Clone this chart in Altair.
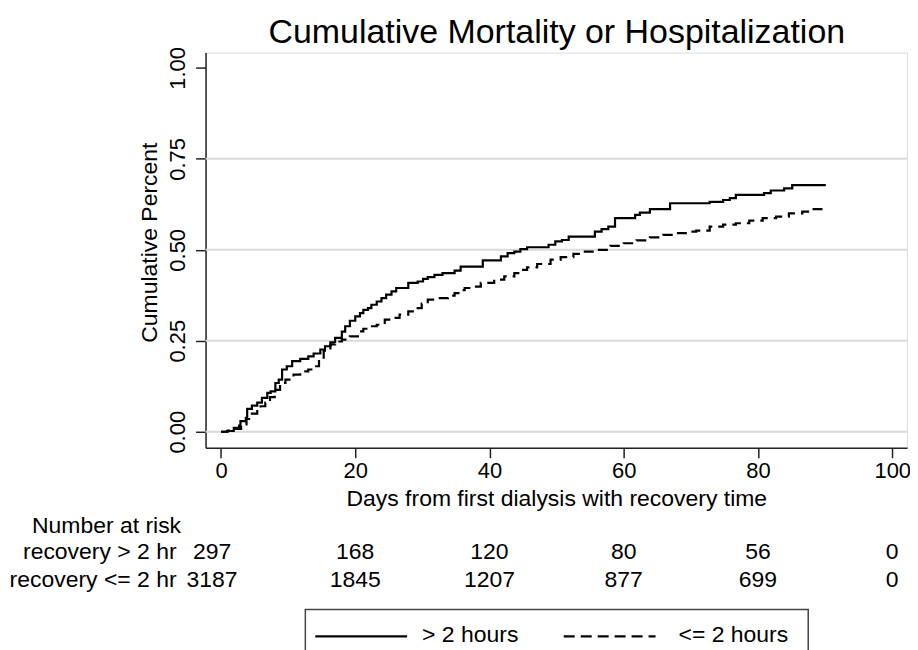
import altair as alt
import pandas as pd

FONT = "Liberation Sans"

title_text = "Cumulative Mortality or Hospitalization"
x_title = "Days from first dialysis with recovery time"
y_title = "Cumulative Percent"
groups = ["> 2 hours", "<= 2 hours"]

gt2_days = [0, 0.9, 1.9, 2.7, 2.9, 3.7, 3.9, 4.6, 5.4, 6.1, 6.9, 7.4, 8.1, 8.6, 9.1,
            9.8, 10.6, 11.8, 13.0, 13.8, 14.8, 15.5, 16.3, 17.0, 18.0, 18.5, 19.2, 20.0,
            20.7, 21.2, 21.9, 22.4, 23.2, 23.9, 24.6, 25.4, 26.1, 27.9, 29.3, 30.1, 30.8,
            31.8, 33.0, 34.8, 35.7, 39.0, 41.7, 42.7, 43.7, 44.6, 45.6, 48.8, 49.8, 50.8,
            51.8, 55.7, 56.7, 57.7, 58.7, 61.7, 62.4, 63.9, 66.9, 72.8, 74.8, 75.8, 76.7,
            80.9, 81.9, 83.9, 85.1, 90.1]
gt2_vals = [0, 0.002, 0.011, 0.017, 0.029, 0.038, 0.063, 0.072, 0.080, 0.093, 0.107,
            0.111, 0.134, 0.143, 0.171, 0.180, 0.194, 0.200, 0.207, 0.215, 0.226, 0.235,
            0.246, 0.258, 0.275, 0.290, 0.305, 0.317, 0.326, 0.335, 0.340, 0.349, 0.358,
            0.367, 0.377, 0.386, 0.395, 0.409, 0.413, 0.420, 0.425, 0.431, 0.436, 0.443,
            0.454, 0.471, 0.482, 0.491, 0.495, 0.502, 0.507, 0.514, 0.523, 0.527, 0.536,
            0.550, 0.557, 0.564, 0.587, 0.596, 0.602, 0.612, 0.628, 0.632, 0.637, 0.642,
            0.651, 0.656, 0.663, 0.669, 0.678, 0.678]

le2_days = [0, 1.0, 2.0, 3.0, 3.8, 4.6, 5.4, 5.9, 6.6, 7.3, 8.0, 8.8, 9.6, 10.2, 10.8,
            11.8, 13.0, 13.8, 14.6, 15.3, 16.3, 17.0, 18.0, 19.2, 20.4, 21.2, 21.9, 23.2,
            24.4, 25.4, 26.6, 27.9, 29.1, 29.9, 30.8, 31.8, 33.8, 34.8, 35.6, 36.3, 37.2,
            38.7, 40.7, 42.2, 43.7, 44.6, 45.6, 47.1, 49.1, 50.6, 52.5, 54.0, 56.0, 58.0,
            60.0, 61.9, 63.9, 65.9, 67.9, 69.8, 70.8, 72.8, 74.8, 76.7, 78.7, 80.7, 82.7,
            84.6, 86.6, 88.1, 90.1]
le2_vals = [0, 0.003, 0.008, 0.020, 0.035, 0.050, 0.062, 0.070, 0.080, 0.095, 0.115,
            0.134, 0.143, 0.150, 0.157, 0.166, 0.171, 0.180, 0.200, 0.222, 0.240, 0.248,
            0.253, 0.262, 0.276, 0.283, 0.290, 0.294, 0.308, 0.313, 0.322, 0.331, 0.340,
            0.352, 0.363, 0.367, 0.374, 0.381, 0.389, 0.395, 0.399, 0.409, 0.418, 0.427,
            0.436, 0.445, 0.452, 0.461, 0.473, 0.480, 0.489, 0.495, 0.500, 0.511, 0.518,
            0.526, 0.534, 0.541, 0.546, 0.550, 0.553, 0.564, 0.569, 0.573, 0.580, 0.587,
            0.591, 0.600, 0.605, 0.612, 0.617]

x_ticks = [0, 20, 40, 60, 80, 100]
y_ticks = [0, 0.25, 0.5, 0.75, 1.0]
grid_vals = [0, 0.25, 0.5, 0.75]

risk_header = "Number at risk"
risk_labels = ["recovery > 2 hr", "recovery <= 2 hr"]
risk_days = [0, 20, 40, 60, 80, 100]
risk_gt2 = [297, 168, 120, 80, 56, 0]
risk_le2 = [3187, 1845, 1207, 877, 699, 0]

curves = pd.concat([
    pd.DataFrame({"day": gt2_days, "value": gt2_vals, "group": groups[0]}),
    pd.DataFrame({"day": le2_days, "value": le2_vals, "group": groups[1]}),
], ignore_index=True)

xs = alt.Scale(domain=[-2.3, 102.2], nice=False, zero=False)
ys = alt.Scale(domain=[-0.044, 1.042], nice=False, zero=False)

x_axis = alt.Axis(values=x_ticks, format="d", title=x_title, grid=False, tickSize=10,
                  labelPadding=3, labelFontSize=22, titleFontSize=23, titleY=58,
                  titleBaseline="alphabetic", labelFlush=False, labelOverlap=False,
                  domainColor="#222222", tickColor="#222222", domainWidth=1.5, tickWidth=1.5,
                  labelColor="black", titleColor="black", labelFont=FONT, titleFont=FONT,
                  titleFontWeight="normal")
y_axis = alt.Axis(values=y_ticks, format=".2f", title=y_title, grid=False, tickSize=10,
                  labelAngle=270, labelAlign="center", labelBaseline="alphabetic",
                  labelPadding=11, labelFontSize=22, titleFontSize=23, titleAngle=270,
                  titleX=-49, titleY=190, titleBaseline="alphabetic", titleAlign="center",
                  labelFlush=False, labelOverlap=False,
                  domainColor="#222222", tickColor="#222222", domainWidth=1.5, tickWidth=1.5,
                  labelColor="black", titleColor="black", labelFont=FONT, titleFont=FONT,
                  titleFontWeight="normal")

X = alt.X("day:Q", scale=xs, axis=x_axis)

grid = alt.Chart(pd.DataFrame({"g": grid_vals})).mark_rule(
    color="#dadada", strokeWidth=2
).encode(y=alt.Y("g:Q", scale=ys, axis=y_axis))

lines = alt.Chart(curves).mark_line(
    interpolate="step-after", color="black", strokeWidth=2.2
).encode(
    x=X,
    y=alt.Y("value:Q", scale=ys, axis=y_axis),
    strokeDash=alt.StrokeDash("group:N", scale=alt.Scale(domain=groups, range=[[1, 0], [10, 6]]),
                              legend=None),
    detail="group:N",
)

txt = dict(font=FONT, fontSize=23, color="black", baseline="alphabetic")

title = alt.Chart(pd.DataFrame({"t": [title_text]})).mark_text(
    align="center", font=FONT, fontSize=34, color="black", baseline="alphabetic"
).encode(x=alt.value(352), y=alt.value(-10), text="t:N")

layers = [grid, lines, title]

# Number-at-risk table
row_y = [508, 536]
layers.append(alt.Chart(pd.DataFrame({"t": [risk_header]})).mark_text(align="left", **txt).encode(
    x=alt.value(-174), y=alt.value(481), text="t:N"))
for i, counts in enumerate([risk_gt2, risk_le2]):
    df = pd.DataFrame({"day": risk_days, "n": counts})
    layers.append(alt.Chart(pd.DataFrame({"t": [risk_labels[i]]})).mark_text(align="right", **txt).encode(
        x=alt.value(-29), y=alt.value(row_y[i]), text="t:N"))
    layers.append(alt.Chart(df[df.day == 0]).mark_text(align="center", dx=-9, **txt).encode(
        x=X, y=alt.value(row_y[i]), text="n:Q"))
    layers.append(alt.Chart(df[df.day > 0]).mark_text(align="center", **txt).encode(
        x=X, y=alt.value(row_y[i]), text="n:Q"))

# Legend box
leg_df = pd.DataFrame({"label": groups})
layers.append(alt.Chart(leg_df.iloc[:1]).mark_rect(fill="white", stroke="#444444", strokeWidth=1.5).encode(
    x=alt.value(100), x2=alt.value(604), y=alt.value(558), y2=alt.value(625)))
layers.append(alt.Chart(leg_df.iloc[:1]).mark_rule(color="black", strokeWidth=2.2).encode(
    x=alt.value(110), x2=alt.value(202), y=alt.value(585)))
layers.append(alt.Chart(leg_df.iloc[1:]).mark_rule(color="black", strokeWidth=2.2, strokeDash=[11, 6]).encode(
    x=alt.value(359), x2=alt.value(451), y=alt.value(585)))
layers.append(alt.Chart(leg_df.iloc[:1]).mark_text(align="left", **txt).encode(
    x=alt.value(217), y=alt.value(591), text="label:N"))
layers.append(alt.Chart(leg_df.iloc[1:]).mark_text(align="left", **txt).encode(
    x=alt.value(474), y=alt.value(591), text="label:N"))

chart = alt.layer(*layers).properties(
    width=703, height=396,
    autosize=alt.AutoSizeParams(type="none"),
    padding={"left": 198, "top": 44, "right": 3, "bottom": 210},
).configure_view(strokeWidth=0).configure(background="white")

chart.save("out.html", embed_options={"renderer": "svg", "actions": False})
